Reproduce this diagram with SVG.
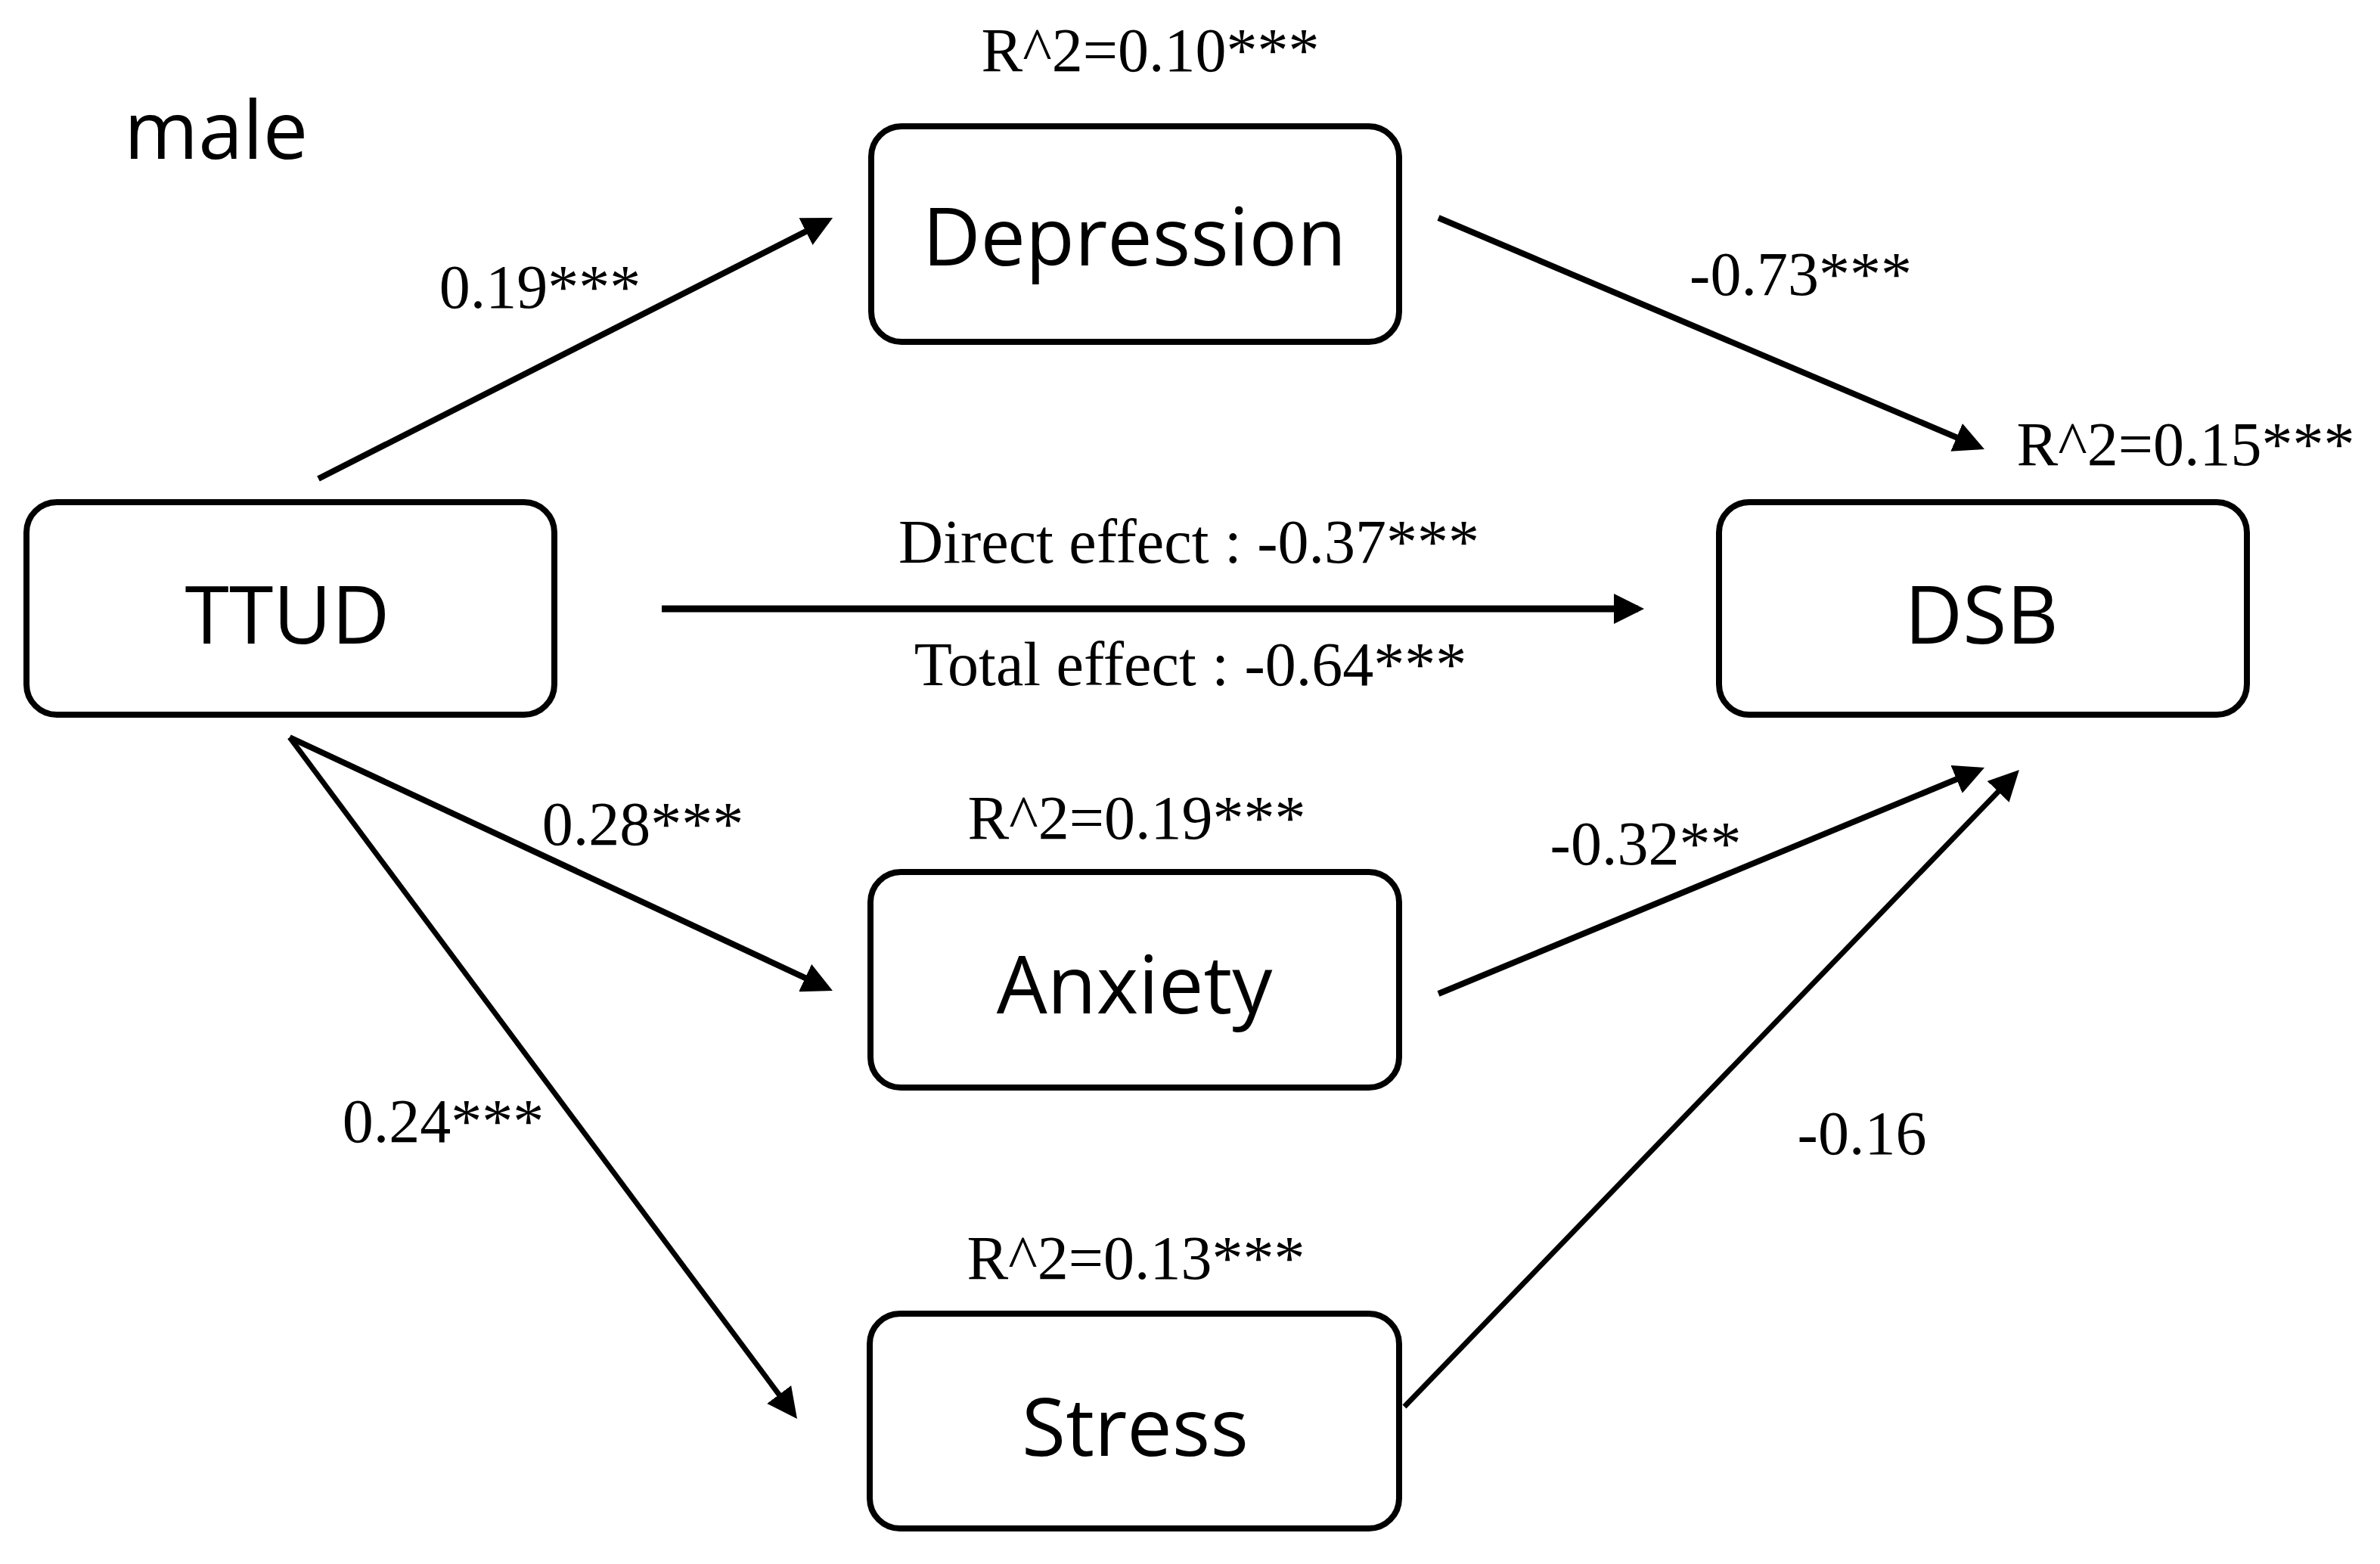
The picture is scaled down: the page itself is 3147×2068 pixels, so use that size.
<svg xmlns="http://www.w3.org/2000/svg" width="3147" height="2068" viewBox="0 0 3147 2068">
  <style>
    .box { fill: #ffffff; stroke: #000000; stroke-width: 8; }
    .node-label { font-family: "Open Sans", "Noto Sans", "DejaVu Sans", sans-serif; font-size: 106px; fill: #000000; text-anchor: middle; }
    .title { font-family: "Open Sans", "Noto Sans", "DejaVu Sans", sans-serif; font-size: 106px; fill: #000000; }
    .lbl { font-family: "Liberation Serif", "Times New Roman", serif; font-size: 82px; fill: #000000; text-anchor: middle; }
    .conn { stroke: #000000; stroke-width: 8; fill: none; marker-end: url(#arrow); }
    .conn.thin { stroke-width: 7; }
    .conn.thick { stroke-width: 9; }
  </style>
  <defs>
    <marker id="arrow" markerUnits="userSpaceOnUse" markerWidth="40" markerHeight="40" refX="32" refY="20" orient="auto">
      <path d="M0,0 L40,20 L0,40 z" fill="#000000"/>
    </marker>
  </defs>
  <rect x="0" y="0" width="3147" height="2068" fill="#ffffff"/>

  <text class="title" x="164" y="210">male</text>

  <g id="connectors">
    <line class="conn" x1="421" y1="633" x2="1094" y2="291.6"/>
    <line class="conn" x1="1902" y1="288" x2="2616.6" y2="590.9"/>
    <line class="conn thick" x1="875" y1="805" x2="2166" y2="805"/>
    <line class="conn" x1="383" y1="975" x2="1093.7" y2="1306.6"/>
    <line class="conn thin" x1="383" y1="975" x2="1049.2" y2="1869.6"/>
    <line class="conn" x1="1902" y1="1314" x2="2616.6" y2="1018.1"/>
    <line class="conn thin" x1="1857" y1="1860" x2="2664.4" y2="1023.8"/>
  </g>

  <g id="edge-labels">
    <text class="lbl" x="714" y="407">0.19***</text>
    <text class="lbl" x="2381" y="390">-0.73***</text>
    <text class="lbl" x="1572" y="744">Direct effect : -0.37***</text>
    <text class="lbl" x="1574" y="906">Total effect : -0.64***</text>
    <text class="lbl" x="850" y="1117">0.28***</text>
    <text class="lbl" x="2176" y="1143">-0.32**</text>
    <text class="lbl" x="586" y="1510">0.24***</text>
    <text class="lbl" x="2462" y="1526">-0.16</text>
  </g>

  <g id="node-ttud">
    <rect class="box" x="35" y="664" width="698" height="281" rx="40" ry="40"/>
    <text class="node-label" x="380" y="851">TTUD</text>
  </g>

  <g id="node-depression">
    <rect class="box" x="1152" y="167" width="698" height="285" rx="40" ry="40"/>
    <text class="node-label" x="1500" y="351">Depression</text>
    <text class="lbl" x="1521" y="94">R^2=0.10***</text>
  </g>

  <g id="node-dsb">
    <rect class="box" x="2273" y="664" width="698" height="281" rx="40" ry="40"/>
    <text class="node-label" x="2620" y="851">DSB</text>
    <text class="lbl" x="2890" y="615">R^2=0.15***</text>
  </g>

  <g id="node-anxiety">
    <rect class="box" x="1151" y="1153" width="699" height="285" rx="40" ry="40"/>
    <text class="node-label" x="1500" y="1340">Anxiety</text>
    <text class="lbl" x="1503" y="1109">R^2=0.19***</text>
  </g>

  <g id="node-stress">
    <rect class="box" x="1150" y="1737" width="700" height="284" rx="40" ry="40"/>
    <text class="node-label" x="1501" y="1925">Stress</text>
    <text class="lbl" x="1502" y="1691">R^2=0.13***</text>
  </g>
</svg>
